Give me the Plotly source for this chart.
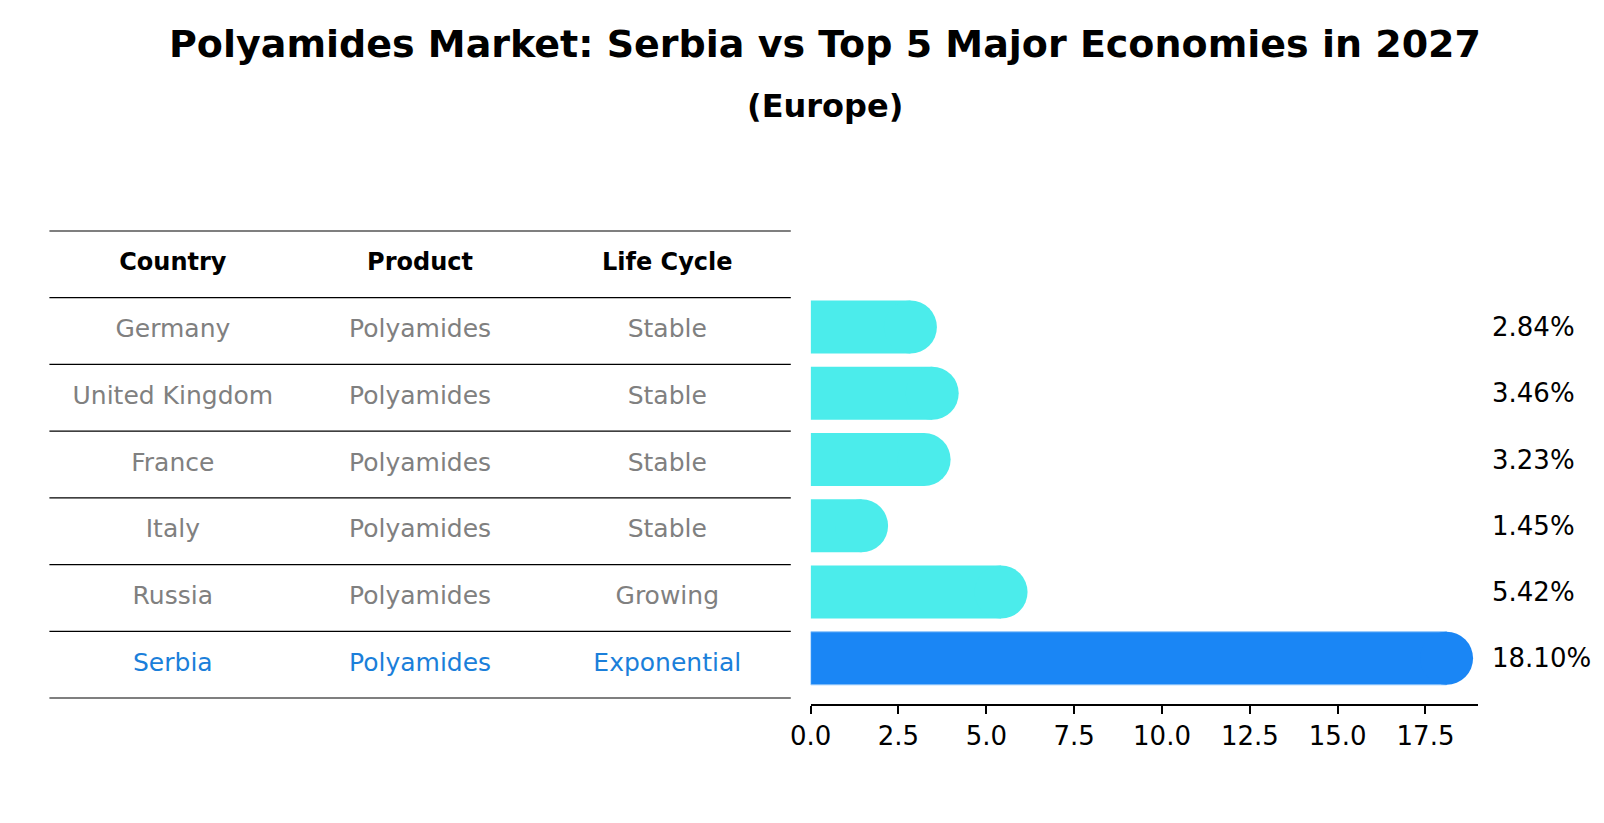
import plotly.graph_objects as go

# Table / bar data (top row first)
countries = ["Germany", "United Kingdom", "France", "Italy", "Russia", "Serbia"]
products = ["Polyamides", "Polyamides", "Polyamides", "Polyamides", "Polyamides", "Polyamides"]
life_cycle = ["Stable", "Stable", "Stable", "Stable", "Growing", "Exponential"]
growth = [2.84, 3.46, 3.23, 1.45, 5.42, 18.10]
headers = ["Country", "Product", "Life Cycle"]
highlight = "Serbia"

W, H = 1604, 823
FONT = "DejaVu Sans"
CYAN = "#4BECEB"
BLUE = "#1A86F5"
n = len(countries)

# bars: Germany at top
y_pos = [n - 1 - i for i in range(n)]
bar_colors = [BLUE if c == highlight else CYAN for c in countries]
text_colors = ["#1B7FDA" if c == highlight else "#808080" for c in countries]

fig = go.Figure()

fig.add_trace(go.Bar(
    x=growth, y=y_pos, orientation="h", width=0.8,
    marker=dict(color=bar_colors,
                line=dict(width=[1 if c == highlight else 0 for c in countries],
                          color="#8CC4FA")),
    xaxis="x", yaxis="y", hoverinfo="skip",
))
# round caps at the bar ends
fig.add_trace(go.Scatter(
    x=growth, y=y_pos, mode="markers", cliponaxis=False,
    marker=dict(symbol="circle", size=53, color=bar_colors, line=dict(width=0)),
    xaxis="x", yaxis="y", hoverinfo="skip",
))

# table text
col_x = [0.5, 1.5, 2.5]
row_y = [n - 1 - i + 0.5 for i in range(n)]
columns = [countries, products, life_cycle]
for cx, col in zip(col_x, columns):
    fig.add_trace(go.Scatter(
        x=[cx] * n, y=row_y, mode="text", text=col,
        textposition="middle center",
        textfont=dict(family=FONT, size=25, color=text_colors),
        xaxis="x2", yaxis="y2", hoverinfo="skip",
    ))
fig.add_trace(go.Scatter(
    x=col_x, y=[n + 0.5] * 3, mode="text", text=headers,
    textposition="middle center",
    textfont=dict(family=FONT, size=24, color="black", weight="bold"),
    xaxis="x2", yaxis="y2", hoverinfo="skip",
))

# horizontal rules of the table
for k in range(n + 2):
    fig.add_shape(type="line", xref="x2", yref="y2", x0=0, x1=3, y0=k, y1=k,
                  line=dict(color="black", width=1.2))

annotations = [
    dict(text="<b>Polyamides Market: Serbia vs Top 5 Major Economies in 2027</b>",
         x=806.5 / W, y=1 - 36 / H, xref="paper", yref="paper",
         xanchor="center", yanchor="middle", showarrow=False,
         font=dict(family=FONT, size=38, color="black")),
    dict(text="<b>(Europe)</b>",
         x=806.5 / W, y=1 - 98 / H, xref="paper", yref="paper",
         xanchor="center", yanchor="middle", showarrow=False,
         font=dict(family=FONT, size=32, color="black")),
]
for v, yp in zip(growth, y_pos):
    annotations.append(dict(
        text=f"{v:.2f}%", x=1480 / W, y=yp, xref="paper", yref="y",
        xanchor="left", yanchor="middle", showarrow=False,
        font=dict(family=FONT, size=26, color="black"),
    ))

# table row height in px, with a little padding so edge rules are not clipped
row_px = (690 - 223) / 7
pad = 0.1

fig.update_layout(
    width=W, height=H,
    margin=dict(l=0, r=0, t=0, b=0),
    paper_bgcolor="white", plot_bgcolor="white",
    showlegend=False,
    annotations=annotations,
    xaxis=dict(domain=[792 / W, 1468.6 / W], range=[0, 19.005], anchor="y",
               tick0=0, dtick=2.5, tickformat=".1f",
               showline=True, linecolor="black", linewidth=1.5,
               ticks="outside", ticklen=8, tickwidth=1.5, tickcolor="black",
               showgrid=False, zeroline=False,
               tickfont=dict(family=FONT, size=26, color="black")),
    yaxis=dict(domain=[(H - 696) / H, (H - 273.3) / H], range=[-0.69, 5.69],
               anchor="x", visible=False),
    xaxis2=dict(domain=[20.5 / W, 772 / W], range=[0, 3], anchor="y2",
                visible=False),
    yaxis2=dict(domain=[(H - 690 - pad * row_px) / H, (H - 223 + pad * row_px) / H],
                range=[-pad, 7 + pad], anchor="x2", visible=False),
)

fig.write_html("out.html")
